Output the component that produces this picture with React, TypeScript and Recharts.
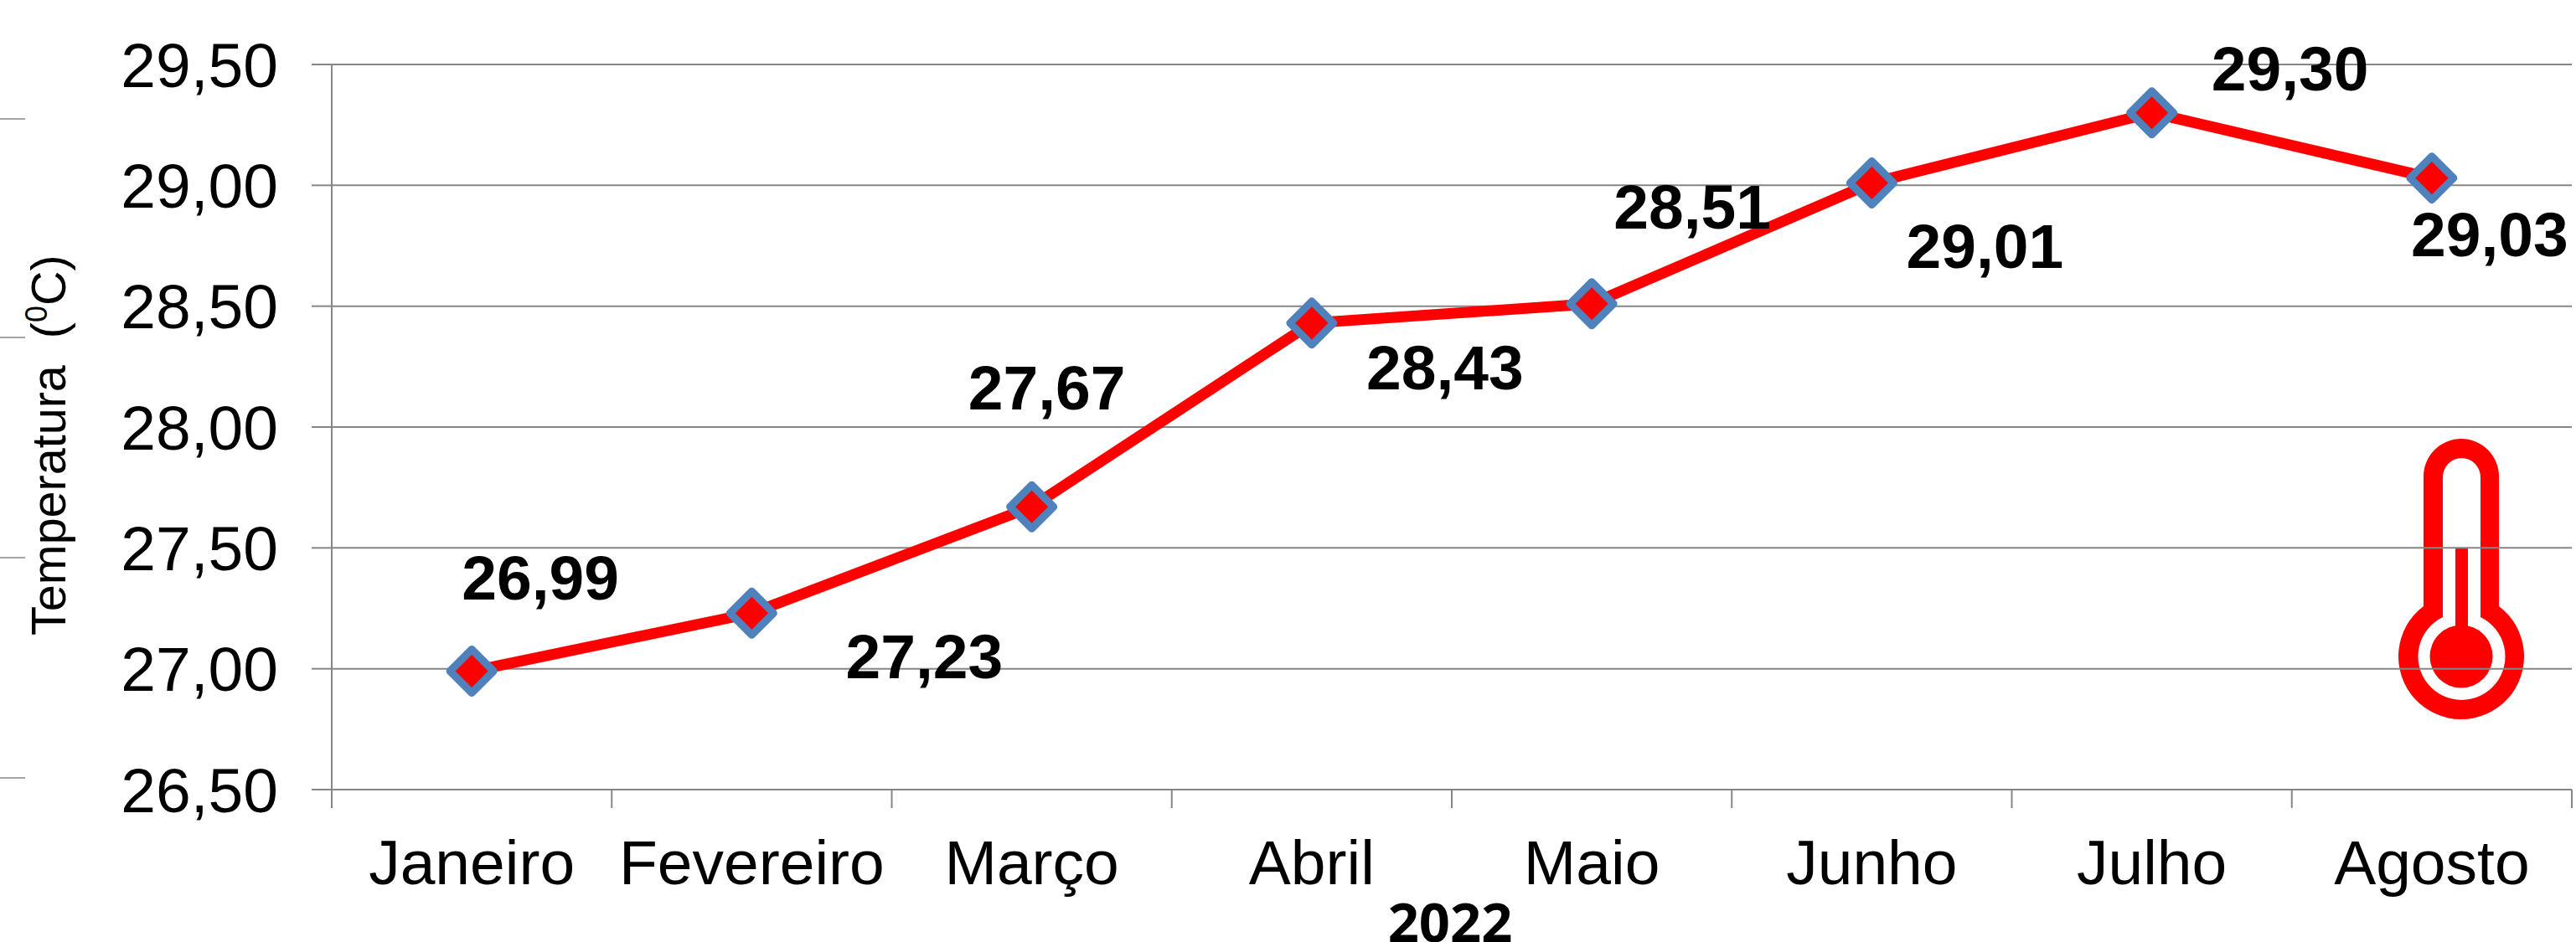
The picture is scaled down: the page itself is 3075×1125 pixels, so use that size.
import { LineChart, Line, XAxis, YAxis, CartesianGrid, LabelList } from "recharts";

const months = ["Janeiro", "Fevereiro", "Março", "Abril", "Maio", "Junho", "Julho", "Agosto"];
const temperatures = [26.99, 27.23, 27.67, 28.43, 28.51, 29.01, 29.3, 29.03];
const yTicks = [26.5, 27, 27.5, 28, 28.5, 29, 29.5];

// where each value label sits relative to its point
const labelDx = [82, 206, 18, 159, 120, 135, 165, 69];
const labelDy = [-112, 52, -142, 53, -116, 76, -53, 67];

const W = 3075;
const H = 1125;
const AXIS_X = 396;
const AXIS_RIGHT = 3070;
const PLOT_TOP = 77;
const PLOT_BOTTOM = 943;
const STEP = (AXIS_RIGHT - AXIS_X) / months.length;

const sans = "'Liberation Sans', Arial, sans-serif";
const gray = "#868686";
const red = "#FF0000";
const blue = "#4F81BD";

const chartData = months.map((month, i) => ({ month, temp: temperatures[i] }));
const comma = (v: number) => v.toFixed(2).replace(".", ",");

function MonthTick({ x, y, payload, index }: any) {
  const top = y - 22;
  return (
    <g>
      <line x1={x - STEP / 2} x2={x - STEP / 2} y1={top} y2={y} stroke={gray} strokeWidth={2} />
      {index === months.length - 1 && (
        <line x1={x + STEP / 2} x2={x + STEP / 2} y1={top} y2={y} stroke={gray} strokeWidth={2} />
      )}
      <text x={x} y={top + 113} textAnchor="middle" fontFamily={sans} fontSize={75} fill="#000">
        {payload.value}
      </text>
    </g>
  );
}

function DiamondDot({ cx, cy }: any) {
  const r = 26;
  return (
    <path
      d={`M${cx} ${cy - r}L${cx + r} ${cy}L${cx} ${cy + r}L${cx - r} ${cy}Z`}
      fill={red}
      stroke={blue}
      strokeWidth={9}
      strokeLinejoin="round"
    />
  );
}

function ValueLabel({ x, y, value, index }: any) {
  return (
    <text
      x={x + labelDx[index]}
      y={y + labelDy[index] + 26}
      textAnchor="middle"
      fontFamily={sans}
      fontWeight="bold"
      fontSize={75}
      fill="#000"
    >
      {comma(value)}
    </text>
  );
}

function AxisTitle() {
  return (
    <text
      transform="translate(78 759) rotate(-90)"
      fontFamily={sans}
      fontSize={57.5}
      fill="#000"
      xmlSpace="preserve"
    >
      {"Temperatura  ("}
      <tspan fontSize={36} dy={-22}>0</tspan>
      <tspan dy={22}>C)</tspan>
    </text>
  );
}

// sits behind the chart, the grid lines run over the thermometer in the original
function Backdrop() {
  return (
    <svg width={W} height={H} style={{ position: "absolute", left: 0, top: 0 }}>
      {[142, 403, 666, 929].map((y) => (
        <line key={y} x1={0} x2={30} y1={y} y2={y} stroke={gray} strokeWidth={1.5} />
      ))}
      <path
        fill={red}
        fillRule="evenodd"
        d="M2893 724V569A45 45 0 0 1 2983 569V724A75 75 0 1 1 2893 724Z
           M2916 737V570A22.5 23 0 0 1 2961 570V737A52 52 0 1 1 2916 737Z"
      />
      <rect x={2931} y={655} width={15} height={100} fill={red} />
      <circle cx={2938} cy={784} r={37.5} fill={red} />
    </svg>
  );
}

export default function App() {
  return (
    <div style={{ position: "absolute", left: 0, top: 0, width: W, height: H, overflow: "hidden", background: "#fff" }}>
      <Backdrop />
      <div style={{ position: "absolute", left: 0, top: 0 }}>
        <LineChart
          width={W}
          height={H}
          data={chartData}
          margin={{ top: PLOT_TOP, right: W - AXIS_RIGHT, bottom: 0, left: 0 }}
        >
          <CartesianGrid vertical={false} stroke={gray} strokeWidth={2} />
          <XAxis
            dataKey="month"
            height={H - PLOT_BOTTOM}
            interval={0}
            padding={{ left: STEP / 2, right: STEP / 2 }}
            tickLine={false}
            tickSize={22}
            tickMargin={0}
            axisLine={{ stroke: gray, strokeWidth: 2 }}
            tick={<MonthTick />}
            label={{
              value: "2022",
              position: "insideBottom",
              offset: 0,
              dx: -2,
              style: { fontFamily: "'Open Sans'", fontWeight: 700, fontSize: 65, fill: "#000" },
            }}
          />
          <YAxis
            domain={[26.5, 29.5]}
            ticks={yTicks}
            width={AXIS_X}
            tickSize={24}
            tickMargin={40}
            tickFormatter={comma}
            tick={{ fontFamily: sans, fontSize: 75, fill: "#000" }}
            tickLine={{ stroke: gray, strokeWidth: 2 }}
            axisLine={{ stroke: gray, strokeWidth: 2 }}
          />
          <AxisTitle />
          <Line
            dataKey="temp"
            stroke={red}
            strokeWidth={13}
            dot={<DiamondDot />}
            activeDot={false}
            isAnimationActive={false}
          >
            <LabelList dataKey="temp" content={<ValueLabel />} />
          </Line>
        </LineChart>
      </div>
    </div>
  );
}
